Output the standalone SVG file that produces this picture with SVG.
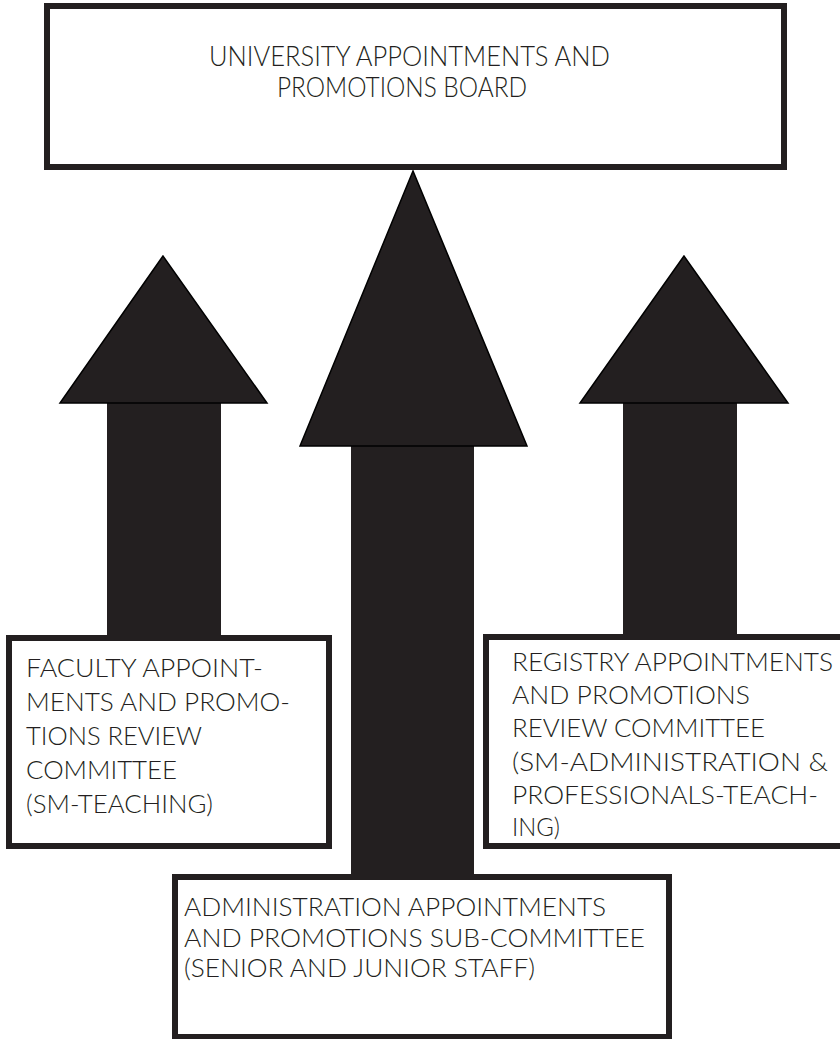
<svg xmlns="http://www.w3.org/2000/svg" width="840" height="1039" viewBox="0 0 840 1039">
  <style>
    .box { fill: #ffffff; stroke: #231f20; stroke-width: 6; }
    .head { fill: #231f20; stroke: #000000; stroke-width: 1.5; stroke-linejoin: miter; }
    .shaft { fill: #231f20; }
    .label { font-family: Lato, "Liberation Sans", sans-serif; font-weight: 300; font-size: 26px; fill: #231f20; }
    .title { font-size: 27.5px; }
  </style>
  <rect width="840" height="1039" fill="#ffffff"/>

  <!-- upward block arrows feeding the board -->
  <g id="connectors">
    <g id="arrow-faculty">
      <rect class="shaft" x="107" y="400" width="114" height="236"/>
      <polygon class="head" points="163,256 60,403 267,403"/>
    </g>
    <g id="arrow-administration">
      <rect class="shaft" x="351" y="443" width="123" height="434"/>
      <polygon class="head" points="413,171 300,446 527,446"/>
    </g>
    <g id="arrow-registry">
      <rect class="shaft" x="623" y="400" width="114" height="236"/>
      <polygon class="head" points="684,256 580,403 788,403"/>
    </g>
  </g>

  <g id="board">
    <rect class="box" x="47" y="6" width="737" height="161"/>
    <text class="label title" x="209" y="66" textLength="401" lengthAdjust="spacingAndGlyphs">UNIVERSITY APPOINTMENTS AND</text>
    <text class="label title" x="277" y="97" textLength="250" lengthAdjust="spacingAndGlyphs">PROMOTIONS BOARD</text>
  </g>

  <g id="faculty-committee">
    <rect class="box" x="9" y="638" width="320" height="208"/>
    <text class="label" x="26" y="677" textLength="237" lengthAdjust="spacingAndGlyphs">FACULTY APPOINT-</text>
    <text class="label" x="26" y="711" textLength="264" lengthAdjust="spacingAndGlyphs">MENTS AND PROMO-</text>
    <text class="label" x="26" y="745" textLength="176" lengthAdjust="spacingAndGlyphs">TIONS REVIEW</text>
    <text class="label" x="26" y="779" textLength="151" lengthAdjust="spacingAndGlyphs">COMMITTEE</text>
    <text class="label" x="26" y="813" textLength="187" lengthAdjust="spacingAndGlyphs">(SM-TEACHING)</text>
  </g>

  <g id="registry-committee">
    <rect class="box" x="486" y="637" width="370" height="209"/>
    <text class="label" x="512" y="671" textLength="321" lengthAdjust="spacingAndGlyphs">REGISTRY APPOINTMENTS</text>
    <text class="label" x="512" y="704" textLength="238" lengthAdjust="spacingAndGlyphs">AND PROMOTIONS</text>
    <text class="label" x="512" y="737" textLength="253" lengthAdjust="spacingAndGlyphs">REVIEW COMMITTEE</text>
    <text class="label" x="512" y="771" textLength="316" lengthAdjust="spacingAndGlyphs">(SM-ADMINISTRATION &amp;</text>
    <text class="label" x="512" y="804" textLength="306" lengthAdjust="spacingAndGlyphs">PROFESSIONALS-TEACH-</text>
    <text class="label" x="512" y="836" textLength="48" lengthAdjust="spacingAndGlyphs">ING)</text>
  </g>

  <g id="administration-subcommittee">
    <rect class="box" x="175" y="877" width="494" height="160"/>
    <text class="label" x="184" y="916" textLength="422" lengthAdjust="spacingAndGlyphs">ADMINISTRATION APPOINTMENTS</text>
    <text class="label" x="184" y="947" textLength="461" lengthAdjust="spacingAndGlyphs">AND PROMOTIONS SUB-COMMITTEE</text>
    <text class="label" x="184" y="977" textLength="351" lengthAdjust="spacingAndGlyphs">(SENIOR AND JUNIOR STAFF)</text>
  </g>
</svg>
